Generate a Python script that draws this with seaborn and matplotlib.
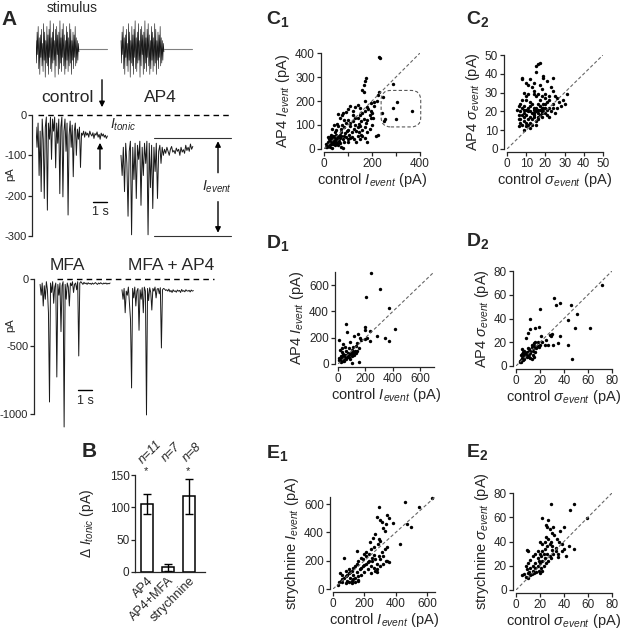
import numpy as np
import matplotlib
matplotlib.use("Agg")
import matplotlib.pyplot as plt
import seaborn as sns
from matplotlib.patches import FancyBboxPatch

sns.set_style("ticks")
plt.rcParams["font.family"] = ["Liberation Sans", "DejaVu Sans"]
plt.rcParams["mathtext.fontset"] = "custom"
plt.rcParams["mathtext.rm"] = "Liberation Sans"
plt.rcParams["mathtext.it"] = "Liberation Sans:italic"
plt.rcParams["mathtext.bf"] = "Liberation Sans:bold"
plt.rcParams["axes.unicode_minus"] = False
plt.rcParams["axes.linewidth"] = 0.9

# ---------------- data ----------------
# stimulus waveform (same noise stimulus played in both conditions)
stim = [0.3, -0.5, 0.6, -0.2, 0.8, -0.7, 0.4, -0.9, 0.5, -0.3, 0.7, -0.6, 0.2, -0.8, 0.9, -0.4,
        0.6, -1.0, 0.3, -0.5, 0.8, -0.6, 0.5, -0.9, 0.7, -0.3, 1.0, -0.7, 0.4, -0.8, 0.6, -0.5,
        0.9, -0.4, 0.3, -1.0, 0.7, -0.6, 0.8, -0.2, 0.5, -0.9, 0.6, -0.7, 1.0, -0.5, 0.4, -0.8,
        0.7, -0.3, 0.9, -0.6, 0.5, -0.9, 0.3, -0.7, 0.8, -0.4, 0.6, -0.8, 0.4, -0.6, 0.9, -0.5,
        0.7, -0.9, 0.3, -0.4, 0.6, -0.7, 0.5, -0.3, 0.8, -0.6, 0.4, -0.5, 0.3, -0.4, 0.2, -0.1]

# recorded currents (pA)
trace_control = [-30, -80, -20, -150, -40, -190, -10, -60, -207, -30, -5, -236, -20, -60, -5, -110,
                 -10, -40, -5, -131, -20, -70, -10, -195, -30, -5, -203, -40, -10, -90, -20, -248,
                 -50, -15, -80, -25, -153, -40, -20, -100, -35, -60, -30, -130, -45, -50, -40, -55,
                 -42, -50, -45, -55, -40, -48, -52, -44, -58, -46, -50, -42, -55, -48, -60, -45,
                 -52, -47, -55, -50, -58, -52]
trace_ap4 = [-100, -150, -80, -190, -70, -120, -251, -90, -65, -297, -80, -160, -70, -207, -75, -110,
             -65, -224, -80, -150, -70, -120, -65, -297, -70, -180, -75, -232, -80, -140, -70, -207,
             -90, -75, -120, -80, -100, -85, -95, -80, -90, -100, -85, -78, -92, -88, -96, -82,
             -90, -85, -100, -80, -92, -86, -95, -75, -88, -80, -90, -72, -85, -78]
trace_mfa = [-40, -120, -30, -200, -50, -150, -20, -80, -250, -911, -30, -100, -20, -180, -60, -30,
             -726, -40, -120, -30, -390, -50, -20, -1096, -40, -150, -30, -60, -200, -30, -50, -20,
             -100, -40, -30, -80, -20, -570, -30, -20, -30, -40, -25, -35, -30, -40, -28, -36,
             -32, -40, -30, -38, -33, -27, -35, -40, -30, -36, -28, -34, -38, -30, -35, -30,
             -38, -32, -36, -30]
trace_mfa_ap4 = [-80, -150, -70, -250, -90, -120, -60, -180, -300, -807, -70, -140, -60, -200, -90, -70,
                 -380, -80, -150, -65, -250, -60, -90, -1007, -70, -160, -65, -100, -230, -70, -90, -60,
                 -140, -75, -70, -110, -65, -511, -80, -70, -75, -85, -80, -90, -75, -95, -85, -100,
                 -80, -92, -88, -98, -82, -90, -85, -100, -78, -92, -86, -95, -80, -88, -90, -84,
                 -96, -82, -90, -86]

# panel B
b_labels = ["AP4", "AP4+MFA", "strychnine"]
b_means = [105, 7, 117]
b_err = [15, 6, 27]
b_n = ["n=11", "n=7", "n=8"]
b_sig = ["*", "", "*"]

# C1: I_event control vs AP4
c1 = [(230, 385), (232, 378), (175, 294), (170, 285), (165, 266), (160, 245), (168, 236), (230, 239),
      (244, 218), (226, 225), (287, 269), (305, 197), (286, 169), (368, 158), (254, 125), (300, 124),
      (240, 150), (250, 115), (226, 58), (195, 128), (205, 128), (220, 200), (210, 195), (195, 190),
      (180, 175), (170, 160), (160, 150), (150, 170), (140, 185), (130, 175), (120, 160), (110, 180),
      (100, 165), (90, 155), (80, 150), (75, 140), (60, 145), (65, 130), (85, 120), (100, 120),
      (110, 110), (120, 115), (130, 100), (140, 90), (150, 95), (160, 80), (170, 90), (180, 70),
      (190, 85), (200, 100), (155, 60), (145, 70), (135, 75), (125, 85), (115, 70), (105, 60),
      (95, 75), (85, 90), (75, 100), (70, 85), (60, 95), (55, 105), (50, 80), (45, 70), (40, 100),
      (35, 85), (30, 60), (25, 50), (20, 40), (15, 30), (10, 20), (8, 10), (12, 8), (18, 15),
      (22, 25), (28, 30), (32, 35), (35, 45), (38, 20), (42, 30), (45, 45), (48, 55), (52, 40),
      (55, 25), (58, 50), (62, 35), (65, 60), (68, 45), (72, 55), (78, 40), (82, 30), (88, 65),
      (92, 50), (98, 40), (102, 80), (108, 45), (115, 50), (125, 40), (135, 30), (140, 55),
      (150, 40), (160, 55), (170, 45), (180, 30), (60, 15), (70, 10), (80, 5), (45, 15), (35, 5),
      (25, 10), (30, 20), (40, 40), (50, 60), (20, 20), (15, 50), (28, 45), (38, 55), (48, 25),
      (100, 30), (110, 95), (130, 130), (140, 130), (120, 140), (90, 110), (70, 70), (65, 25),
      (55, 55), (85, 55), (180, 120), (190, 140), (200, 150), (210, 180), (215, 55), (175, 110),
      (165, 125), (155, 115), (170, 200), (185, 165), (195, 160), (150, 140), (145, 105), (40, 35),
      (50, 30), (30, 40), (55, 45), (45, 55), (35, 30), (25, 35), (60, 50), (42, 50), (52, 20)]
# C2: sigma_event control vs AP4
c2 = [(17, 46), (16, 45), (15, 44), (15, 41), (8, 38), (8, 37), (19, 39), (19, 38), (24, 38),
      (10, 35), (11, 34), (13, 33), (14, 35), (18, 32), (23, 33), (24, 31), (9, 30), (11, 29),
      (14, 29), (15, 28), (16, 29), (20, 29), (22, 28), (26, 27), (31, 29), (29, 26), (21, 25),
      (19, 24), (6, 23), (8, 22), (9, 21), (11, 22), (12, 20), (14, 22), (16, 21), (17, 23),
      (19, 22), (20, 24), (5, 21), (7, 20), (9, 19), (10, 18), (12, 17), (14, 18), (16, 17),
      (18, 19), (19, 20), (21, 21), (22, 22), (26, 22), (28, 23), (7, 16), (9, 15), (10, 14),
      (13, 16), (14, 17), (16, 16), (18, 17), (6, 12), (8, 13), (10, 12), (12, 11), (9, 10),
      (7, 14), (13, 19), (15, 20), (17, 18), (15, 15), (11, 16), (12, 25), (10, 26), (13, 24),
      (17, 26), (18, 28), (20, 27), (22, 26), (24, 24), (25, 28), (27, 25), (30, 24), (8, 26),
      (7, 24), (9, 23), (11, 20), (14, 19), (16, 24), (17, 21), (18, 22), (20, 19), (21, 18),
      (23, 20), (24, 22), (13, 13), (11, 13), (15, 13), (12, 14), (6, 18), (8, 18), (10, 21),
      (12, 23), (14, 21), (15, 22), (16, 19), (18, 20), (20, 22), (22, 17), (25, 19), (17, 34),
      (12, 37), (21, 36), (14, 31), (10, 28), (6, 16), (9, 17)]
# D1 / D2: second data set, control vs AP4
d1 = [(238, 695), (307, 567), (203, 511), (373, 428), (418, 266), (59, 301), (63, 245), (198, 280),
      (200, 255), (288, 215), (344, 200), (373, 175), (234, 175), (145, 230), (120, 215), (5, 180),
      (15, 110), (30, 120), (40, 150), (50, 130), (80, 125), (90, 170), (110, 130), (100, 110),
      (130, 140), (140, 160), (160, 200), (170, 180), (60, 100), (70, 80), (50, 70), (40, 60),
      (30, 50), (20, 40), (10, 30), (15, 20), (25, 30), (35, 35), (45, 45), (55, 55), (65, 65),
      (75, 70), (85, 75), (95, 85), (105, 95), (115, 90), (125, 100), (60, 40), (80, 50), (100, 60),
      (120, 70), (90, 40), (70, 55), (50, 45), (40, 75), (30, 90), (20, 60), (10, 45), (156, 13),
      (100, 5), (140, 100), (130, 80), (110, 75), (150, 120), (35, 25), (25, 15), (45, 20),
      (200, 190), (210, 200), (230, 250)]
d2 = [(72, 68), (32, 57), (33, 51), (37, 53), (46, 51), (51, 44), (43, 39), (20, 48), (12, 40),
      (19, 33), (62, 32), (49, 32), (37, 25), (43, 18), (27, 18), (31, 18), (35, 19), (47, 6),
      (28, 26), (30, 27), (29, 25), (25, 22), (22, 20), (20, 18), (18, 17), (16, 16), (15, 19),
      (14, 15), (13, 18), (12, 13), (11, 14), (10, 12), (9, 10), (8, 11), (7, 9), (6, 8), (5, 7),
      (4, 5), (3, 4), (5, 10), (6, 12), (7, 13), (8, 9), (9, 12), (10, 9), (11, 8), (12, 7),
      (13, 6), (14, 9), (15, 8), (16, 12), (17, 15), (18, 20), (15, 17), (13, 16), (11, 10),
      (9, 8), (7, 6), (6, 5), (4, 3), (3, 3), (8, 24), (10, 28), (12, 31), (16, 32), (21, 25),
      (24, 18), (5, 14), (6, 11), (10, 15), (12, 11), (14, 13), (4, 9), (19, 16), (16, 20)]
# E1 / E2: control vs strychnine
e1 = [(630, 640), (548, 578), (460, 615), (293, 577), (280, 506), (300, 487), (345, 520), (355, 505),
      (385, 465), (315, 470), (338, 460), (470, 457), (500, 440), (425, 315), (345, 300), (320, 430),
      (330, 410), (255, 360), (270, 390), (290, 355), (300, 340), (285, 320), (260, 300), (240, 280),
      (230, 250), (210, 230), (200, 250), (180, 220), (160, 200), (150, 180), (140, 160), (130, 150),
      (120, 130), (110, 120), (100, 110), (90, 100), (80, 90), (70, 80), (60, 70), (50, 60), (40, 50),
      (70, 220), (150, 270), (236, 333), (45, 110), (34, 28), (162, 63), (100, 50), (120, 60),
      (140, 80), (160, 90), (180, 100), (200, 120), (220, 140), (240, 160), (260, 150), (280, 140),
      (300, 160), (320, 180), (340, 200), (360, 190), (200, 170), (180, 150), (220, 190), (250, 200),
      (270, 210), (290, 230), (310, 260), (330, 280), (100, 140), (80, 130), (60, 100), (90, 60),
      (110, 80), (130, 100), (150, 120), (170, 140), (190, 160), (210, 180), (230, 200), (250, 220),
      (160, 60), (140, 50), (120, 40), (80, 40), (60, 50), (130, 70), (190, 210), (210, 260),
      (260, 240), (280, 180), (300, 210), (320, 230), (345, 195), (240, 110), (270, 130), (280, 120)]
e2 = [(29, 71), (48, 71), (45, 66), (59, 59), (22, 59), (27, 58), (40, 52), (37, 49), (44, 36),
      (48, 34), (42, 28), (35, 27), (5, 12), (10, 10), (25, 54), (26, 52), (28, 50), (30, 47),
      (32, 45), (34, 42), (36, 40), (38, 38), (33, 35), (30, 33), (28, 38), (26, 36), (24, 40),
      (22, 38), (20, 40), (18, 32), (16, 30), (14, 28), (12, 25), (10, 22), (8, 20), (9, 17),
      (11, 15), (13, 13), (15, 14), (17, 15), (19, 16), (21, 18), (23, 20), (25, 22), (27, 24),
      (29, 26), (31, 30), (33, 32), (18, 20), (16, 22), (14, 20), (12, 18), (10, 14), (8, 11),
      (7, 13), (9, 33), (10, 32), (20, 30), (22, 32), (24, 34), (26, 30), (28, 28), (30, 36),
      (24, 26), (22, 24), (20, 22), (18, 26), (16, 18), (14, 16), (12, 12), (20, 14), (22, 16),
      (19, 24), (21, 28), (23, 30), (25, 44), (27, 42), (29, 40), (35, 30), (38, 32), (40, 34),
      (31, 52)]

# ---------------- layout helpers (pixel coords, origin top-left) ----------------
W, H = 626, 633
fig = plt.figure(figsize=(W / 100, H / 100), dpi=100)


def box(x0, y0, x1, y1):
    return [x0 / W, 1 - y1 / H, (x1 - x0) / W, (y1 - y0) / H]


def fxy(x, y):
    return (x / W, 1 - y / H)


def label(x, y, s, size=14):
    fig.text(*fxy(x, y), s, fontsize=size, fontweight="bold", ha="left", va="baseline")


TRACE_KW = dict(color="0.1", linewidth=0.7, estimator=None, sort=False)
ARROW = dict(arrowstyle="-|>", color="black", lw=1, mutation_scale=8)

# ---------------- A: stimulus ----------------
ax_s = fig.add_axes(box(36, 18, 232, 80))
for t0 in (0.0, 6.07):
    sns.lineplot(x=np.linspace(t0, t0 + 3.07, len(stim)), y=stim, ax=ax_s,
                 color="0.1", linewidth=0.45, estimator=None, sort=False)
    ax_s.plot([t0 + 3.07, t0 + 5.1], [0, 0], color="0.5", lw=0.8)
ax_s.set_xlim(0, 14)
ax_s.set_ylim(-1.1, 1.1)
ax_s.axis("off")
fig.text(*fxy(72, 8), "stimulus", fontsize=10, ha="center", va="center")

# ---------------- A: control / AP4 ----------------
ax_a = fig.add_axes(box(36, 113, 232, 240))
sns.lineplot(x=np.linspace(0, 5.1, len(trace_control)), y=trace_control, ax=ax_a, **TRACE_KW)
sns.lineplot(x=np.linspace(6.07, 11.2, len(trace_ap4)), y=trace_ap4, ax=ax_a, **TRACE_KW)
ax_a.set_xlim(0, 14)
ax_a.set_ylim(-310, 5)
ax_a.plot([0.15, 14], [0, 0], ls=(0, (4, 3)), color="black", lw=1, clip_on=False)
ax_a.set_yticks([0, -100, -200, -300])
ax_a.set_xticks([])
sns.despine(ax=ax_a, bottom=True)
ax_a.spines["left"].set_position(("outward", 3))
ax_a.spines["left"].set_bounds(-300, 0)
ax_a.tick_params(axis="y", labelsize=8, length=3, width=0.9, pad=1)
ax_a.set_ylabel("")
# scale bar
ax_a.plot([4.07, 5.07], [-216, -216], color="black", lw=1)
ax_a.text(4.57, -240, "1 s", fontsize=9, ha="center", va="center")
# I_tonic arrow
ax_a.annotate("", xy=(4.57, -62), xytext=(4.57, -141), arrowprops=ARROW)
ax_a.text(5.3, -25, r"$I_{tonic}$", fontsize=10, ha="left", va="center")
# I_event bracket
ax_a.plot([8.4, 13.9], [-57, -57], color="0.2", lw=0.8, clip_on=False)
ax_a.plot([8.4, 13.9], [-300, -300], color="0.2", lw=0.8, clip_on=False)
ax_a.annotate("", xy=(13.0, -58), xytext=(13.0, -150), arrowprops=ARROW)
ax_a.annotate("", xy=(13.0, -299), xytext=(13.0, -208), arrowprops=ARROW)
ax_a.text(12.9, -178, r"$I_{event}$", fontsize=10, ha="center", va="center")
fig.text(*fxy(10, 174), "pA", fontsize=8, rotation=90, ha="center", va="center")
fig.text(*fxy(67, 98), "control", fontsize=12.5, ha="center", va="center")
fig.text(*fxy(160, 98), "AP4", fontsize=12.5, ha="center", va="center")
ax_a.annotate("", xy=fxy(102, 110), xytext=fxy(102, 77), xycoords="figure fraction",
              textcoords="figure fraction", arrowprops=ARROW)

# ---------------- A: MFA / MFA + AP4 ----------------
ax_m = fig.add_axes(box(38, 276, 232, 429))
sns.lineplot(x=np.linspace(0.15, 5.15, len(trace_mfa)), y=trace_mfa, ax=ax_m, **TRACE_KW)
sns.lineplot(x=np.linspace(6.0, 11.1, len(trace_mfa_ap4)), y=trace_mfa_ap4, ax=ax_m, **TRACE_KW)
ax_m.set_xlim(0, 13.86)
ax_m.set_ylim(-1111, 22)
ax_m.plot([1.36, 12.6], [0, 0], ls=(0, (4, 3)), color="black", lw=1)
ax_m.set_yticks([0, -500, -1000])
ax_m.set_xticks([])
sns.despine(ax=ax_m, bottom=True)
ax_m.spines["left"].set_position(("outward", 3))
ax_m.spines["left"].set_bounds(-1000, 0)
ax_m.tick_params(axis="y", labelsize=8, length=3, width=0.9, pad=1)
ax_m.set_ylabel("")
ax_m.plot([2.86, 3.86], [-822, -822], color="black", lw=1)
ax_m.text(3.36, -905, "1 s", fontsize=9, ha="center", va="center")
fig.text(*fxy(10, 325), "pA", fontsize=8, rotation=90, ha="center", va="center")
fig.text(*fxy(67, 266), "MFA", fontsize=12.5, ha="center", va="center")
fig.text(*fxy(171, 266), "MFA + AP4", fontsize=12.5, ha="center", va="center")

# ---------------- B ----------------
ax_b = fig.add_axes(box(135, 475, 205, 572))
sns.barplot(x=b_labels, y=b_means, ax=ax_b, color="white", edgecolor="black",
            linewidth=1.1, width=0.6, errorbar=None)
ax_b.errorbar(range(len(b_means)), b_means, yerr=b_err, fmt="none", ecolor="black",
              elinewidth=1, capsize=3, capthick=1)
ax_b.set_xlim(-0.57, 2.76)
ax_b.set_ylim(0, 150)
ax_b.set_yticks([0, 50, 100, 150])
sns.despine(ax=ax_b)
ax_b.tick_params(axis="y", labelsize=8.5, length=3, width=0.9, pad=1)
ax_b.tick_params(axis="x", length=0, labelsize=9, pad=2)
for lab in ax_b.get_xticklabels():
    lab.set_rotation(45)
    lab.set_ha("right")
    lab.set_rotation_mode("anchor")
ax_b.set_ylabel(r"$\Delta$ $I_{tonic}$ (pA)", fontsize=10)
ax_b.yaxis.set_label_coords(-0.55, 0.5)
for i, (n, s) in enumerate(zip(b_n, b_sig)):
    ax_b.text(i + 0.17, 185, n, fontsize=9, style="italic", rotation=45,
              ha="center", va="center", clip_on=False)
    if s:
        ax_b.text(i - 0.05, 156, s, fontsize=8, ha="center", va="center")

# ---------------- scatter panels ----------------


def scatter_panel(rect, pts, lim, ticks, xlabel, ylabel):
    ax = fig.add_axes(box(*rect))
    xs = [p[0] for p in pts]
    ys = [p[1] for p in pts]
    sns.scatterplot(x=xs, y=ys, ax=ax, s=6, color="black", linewidth=0, clip_on=False)
    ax.plot([0, lim], [0, lim], ls=(0, (3, 2)), color="0.4", lw=0.8)
    ax.set_xlim(0, lim)
    ax.set_ylim(0, lim)
    ax.set_xticks(ticks)
    ax.set_yticks(ticks)
    sns.despine(ax=ax, offset=2)
    ax.tick_params(labelsize=8.5, length=3, width=0.9, pad=1.5)
    ax.set_xlabel(xlabel, fontsize=10.5, labelpad=1)
    ax.set_ylabel(ylabel, fontsize=10.5, labelpad=2)
    return ax


I_ev = r"$I_{event}$"
S_ev = r"$\sigma_{event}$"

ax_c1 = scatter_panel((324, 53, 420, 149), c1, 400, [0, 100, 200, 300, 400],
                      "control " + I_ev + " (pA)", "AP4 " + I_ev + " (pA)")
ax_c1.set_xticks([0, 100, 200, 300, 400], ["0", "", "200", "", "400"])
ax_c1.add_patch(FancyBboxPatch((238, 92), 165, 152, boxstyle="round,pad=0,rounding_size=40",
                               fill=False, ls=(0, (3, 2)), ec="0.35", lw=0.8, clip_on=False))
scatter_panel((507, 55, 603, 149), c2, 50, [0, 10, 20, 30, 40, 50],
              "control " + S_ev + " (pA)", "AP4 " + S_ev + " (pA)")
scatter_panel((338, 272, 434, 364), d1, 700, [0, 200, 400, 600],
              "control " + I_ev + " (pA)", "AP4 " + I_ev + " (pA)")
scatter_panel((516, 271, 612, 366), d2, 80, [0, 20, 40, 60, 80],
              "control " + S_ev + " (pA)", "AP4 " + S_ev + " (pA)")
scatter_panel((333, 497, 435, 589), e1, 650, [0, 200, 400, 600],
              "control " + I_ev + " (pA)", "strychnine " + I_ev + " (pA)")
scatter_panel((516, 493, 612, 590), e2, 80, [0, 20, 40, 60, 80],
              "control " + S_ev + " (pA)", "strychnine " + S_ev + " (pA)")

# ---------------- panel letters ----------------
label(1, 25, "A", 15)
label(82, 457, "B", 15)
label(266, 24, r"$\mathbf{C_1}$")
label(466, 24, r"$\mathbf{C_2}$")
label(266, 248, r"$\mathbf{D_1}$")
label(466, 246, r"$\mathbf{D_2}$")
label(266, 458, r"$\mathbf{E_1}$")
label(466, 457, r"$\mathbf{E_2}$")

fig.savefig("out.png", dpi=100, facecolor="white")
